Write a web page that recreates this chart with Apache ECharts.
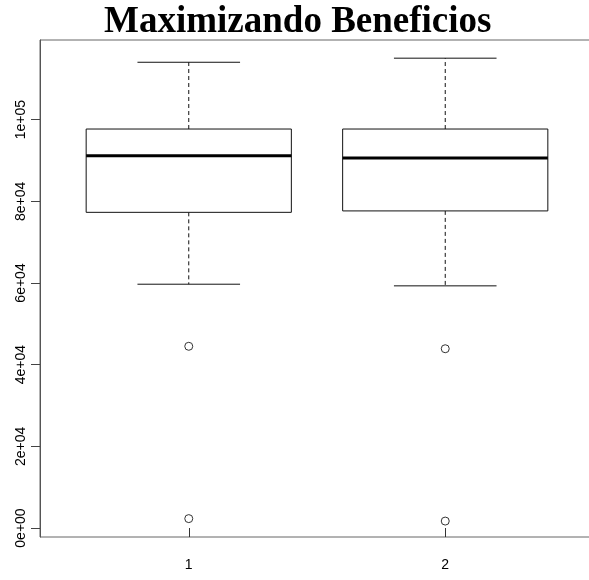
<!DOCTYPE html>
<html>
<head>
<meta charset="utf-8">
<script src="https://cdn.jsdelivr.net/npm/echarts@6/dist/echarts.min.js"></script>
<style>
  html, body { margin: 0; padding: 0; background: #fff; }
  #main { width: 589px; height: 580px; }
</style>
</head>
<body>
<div id="main"></div>
<script>
// box statistics
var groups = [1, 2];
var whiskerLow = [59700, 59300];
var q1 = [77300, 77650];
var medians = [91150, 90600];
var q3 = [97700, 97700];
var whiskerHigh = [114050, 115050];
var outliers1 = [44500, 2300];
var outliers2 = [43900, 1700];

var yTicks = [0, 20000, 40000, 60000, 80000, 100000];
var yTickLabels = ['0e+00', '2e+04', '4e+04', '6e+04', '8e+04', '1e+05'];
var xTickLabels = ['1', '2'];

var myChart = echarts.init(document.getElementById('main'));

var boxData = groups.map(function (g, i) {
    return [g, whiskerLow[i], q1[i], medians[i], q3[i], whiskerHigh[i]];
});
var outlierData = [];
outliers1.forEach(function (v) { outlierData.push([groups[0], v]); });
outliers2.forEach(function (v) { outlierData.push([groups[1], v]); });

// R-style boxplot: dashed whiskers, staples, thick median
function renderBox(params, api) {
    var x = api.value(0);
    var lo = api.coord([x, api.value(1)]);
    var b1 = api.coord([x, api.value(2)]);
    var md = api.coord([x, api.value(3)]);
    var b3 = api.coord([x, api.value(4)]);
    var hi = api.coord([x, api.value(5)]);
    var hw = api.size([0.4, 0])[0];   // half box width
    var sw = hw / 2;                  // half staple width
    var cx = lo[0];
    var line = { stroke: '#111', lineWidth: 1 };
    var dash = { stroke: '#111', lineWidth: 1, lineDash: [4, 3] };
    return {
        type: 'group',
        children: [
            { type: 'line', shape: { x1: cx, y1: b3[1], x2: cx, y2: hi[1] }, style: dash },
            { type: 'line', shape: { x1: cx, y1: b1[1], x2: cx, y2: lo[1] }, style: dash },
            { type: 'line', shape: { x1: cx - sw, y1: hi[1], x2: cx + sw, y2: hi[1] }, style: line },
            { type: 'line', shape: { x1: cx - sw, y1: lo[1], x2: cx + sw, y2: lo[1] }, style: line },
            { type: 'rect', shape: { x: cx - hw, y: b3[1], width: hw * 2, height: b1[1] - b3[1] },
              style: { fill: '#fff', stroke: '#111', lineWidth: 1 } },
            { type: 'line', shape: { x1: cx - hw, y1: md[1], x2: cx + hw, y2: md[1] },
              style: { stroke: '#000', lineWidth: 3 } }
        ]
    };
}

var option = {
    backgroundColor: '#fff',
    animation: false,
    title: {
        text: 'Maximizando Beneficios',
        left: 99,
        top: -1,
        textStyle: {
            fontFamily: 'Liberation Serif',
            fontWeight: 'bold',
            fontSize: 37,
            color: '#000'
        }
    },
    grid: {
        left: 40,
        top: 40,
        width: 554,
        height: 497,
        show: true,
        borderColor: '#666',
        borderWidth: 1,
        outerBoundsMode: 'none'
    },
    xAxis: {
        type: 'value',
        min: 0.42,
        max: 2.58,
        splitLine: { show: false },
        axisLine: { show: false },
        axisTick: {
            show: true,
            length: 9,
            customValues: groups,
            lineStyle: { color: '#333' }
        },
        axisLabel: {
            show: true,
            customValues: groups,
            margin: 21,
            fontFamily: 'Liberation Sans',
            fontSize: 14,
            color: '#000',
            formatter: function (v) { return xTickLabels[groups.indexOf(v)]; }
        }
    },
    yAxis: {
        type: 'value',
        min: -2200,
        max: 119500,
        splitLine: { show: false },
        axisLine: { show: true, lineStyle: { color: '#555' } },
        axisTick: {
            show: true,
            length: 9,
            customValues: yTicks,
            lineStyle: { color: '#444' }
        },
        axisLabel: {
            show: true,
            customValues: yTicks,
            rotate: 90,
            margin: 12,
            fontFamily: 'Liberation Sans',
            fontSize: 14,
            color: '#000',
            formatter: function (v) { return yTickLabels[yTicks.indexOf(v)]; }
        }
    },
    series: [
        {
            type: 'custom',
            renderItem: renderBox,
            encode: { x: 0, y: [1, 2, 3, 4, 5] },
            data: boxData,
            clip: true,
            z: 2
        },
        {
            type: 'scatter',
            symbol: 'circle',
            symbolSize: 8,
            itemStyle: { color: '#fff', borderColor: '#333', borderWidth: 1, opacity: 1 },
            data: outlierData,
            z: 3
        }
    ]
};

myChart.setOption(option);
</script>
</body>
</html>
